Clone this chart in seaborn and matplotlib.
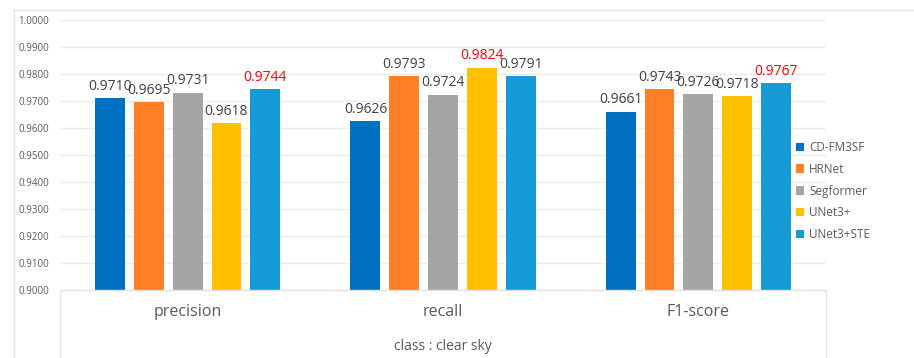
import matplotlib
matplotlib.use("Agg")
import matplotlib.pyplot as plt
import seaborn as sns
import pandas as pd
from matplotlib.lines import Line2D
from matplotlib.patches import Patch

metrics = ["precision", "recall", "F1-score"]
models = ["CD-FM3SF", "HRNet", "Segformer", "UNet3+", "UNet3+STE"]
cd_fm3sf = [0.9710, 0.9626, 0.9661]
hrnet = [0.9695, 0.9793, 0.9743]
segformer = [0.9731, 0.9724, 0.9726]
unet3 = [0.9618, 0.9824, 0.9718]
unet3ste = [0.9744, 0.9791, 0.9767]
colors = ["#0070C0", "#FF7F27", "#A5A5A5", "#FFC000", "#179BD7"]
xlabel = "class : clear sky"

series = [cd_fm3sf, hrnet, segformer, unet3, unet3ste]
rows = []
for m, vals in zip(models, series):
    for met, v in zip(metrics, vals):
        rows.append({"metric": met, "model": m, "value": v})
df = pd.DataFrame(rows)

sns.set_theme(style="white")
plt.rcParams["font.family"] = ["Open Sans", "DejaVu Sans"]

W, H = 914, 358
fig = plt.figure(figsize=(W / 100, H / 100), dpi=100)

def fx(px):
    return px / W

def fy(py):
    return 1 - py / H

# outer frame
frame = Line2D([fx(14), fx(14), fx(914)], [fy(358), fy(10), fy(10)],
               transform=fig.transFigure, color="#E3E3E3", lw=1.0)
fig.add_artist(frame)

ax = fig.add_axes([fx(60), fy(290), fx(826) - fx(60), fy(20) - fy(290)])
sns.barplot(data=df, x="metric", y="value", hue="model", order=metrics,
            hue_order=models, palette=colors, saturation=1, width=0.76,
            gap=0.23, ax=ax, legend=False, linewidth=0, errorbar=None)
ax.set_ylim(0.9, 1.0)
ax.set_xlim(-0.5, 2.5)
ax.set_yticks([0.9 + 0.01 * i for i in range(11)])
ax.set_yticklabels([f"{0.9 + 0.01 * i:.4f}" for i in range(11)],
                   fontsize=7, color="#595959")
ax.tick_params(axis="y", length=0, pad=8)
ax.set_xticks([])
ax.set_xlabel("")
ax.set_ylabel("")
ax.yaxis.grid(True, color="#EBEBEB", lw=1.0)
ax.set_axisbelow(True)
for s in ["top", "right", "left"]:
    ax.spines[s].set_visible(False)
ax.spines["bottom"].set_color("#E3E3E3")
ax.spines["bottom"].set_linewidth(1.0)

# data labels
maxes = [max(col) for col in zip(*series)]
for cont, vals in zip(ax.containers, series):
    for bar, v, mx in zip(cont, vals, maxes):
        col = "#FF0000" if v == mx else "#404040"
        ax.annotate(f"{v:.4f}", (bar.get_x() + bar.get_width() / 2, v),
                    xytext=(0, 3), textcoords="offset points",
                    ha="center", va="bottom", fontsize=10, color=col)

# category table below
for xp in [60, 826]:
    fig.add_artist(Line2D([fx(xp), fx(xp)], [fy(290), fy(358)],
                          transform=fig.transFigure, color="#E3E3E3", lw=1.0))
for i, met in enumerate(metrics):
    xpos = ax.transData.transform((i, 0))[0] / fig.dpi / fig.get_figwidth()
    fig.text(xpos, fy(312), met, ha="center", va="center",
             fontsize=11.5, color="#595959")
fig.text(fx(443), fy(346), xlabel, ha="center", va="center",
         fontsize=10, color="#595959")

handles = [Patch(facecolor=c, edgecolor="none") for c in colors]
leg = fig.legend(handles, models, loc="upper left",
                 bbox_to_anchor=(fx(790), fy(135)), frameon=False,
                 fontsize=8.5, handlelength=0.7, handleheight=0.7,
                 handletextpad=0.4, labelspacing=0.75, borderpad=0)
for t in leg.get_texts():
    t.set_color("#595959")

fig.savefig("out.png", dpi=100)
